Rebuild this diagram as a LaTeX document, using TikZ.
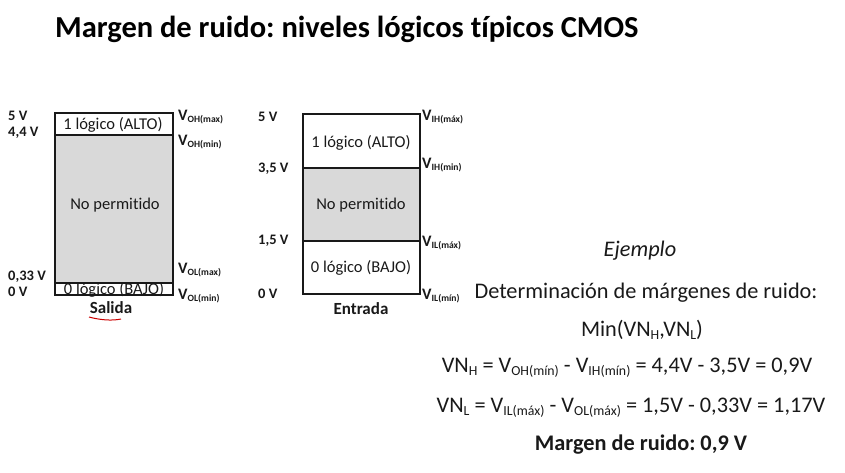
\documentclass[tikz,border=0pt]{standalone}
\usepackage{fontspec}
\setmainfont{Carlito}[Ligatures=CommonOff]
\frenchspacing
\newcommand{\sbs}[1]{\raisebox{-0.35ex}{\scalebox{0.6}{#1}}}
\newcommand{\esb}[1]{\raisebox{-0.3ex}{\scalebox{0.62}{#1}}}
\definecolor{zonegray}{RGB}{217,217,217}
\definecolor{ink}{RGB}{25,25,25}
\begin{document}
\begin{tikzpicture}[x=1pt,y=-1pt,
  titletext/.style={font=\fontsize{30.5}{34}\selectfont\bfseries, inner sep=0, anchor=base west},
  lvl/.style={font=\fontsize{14.5}{16}\selectfont\bfseries, inner sep=0, anchor=west, text=ink},
  vlab/.style={font=\fontsize{16}{18}\selectfont\bfseries, inner sep=0, anchor=west, text=ink},
  zone/.style={font=\fontsize{16.5}{19}\selectfont, inner sep=0, text=ink},
  boxcap/.style={font=\fontsize{17}{19}\selectfont\bfseries, inner sep=0, text=ink},
  eq/.style={font=\fontsize{22.3}{26}\selectfont, inner sep=0, text=ink},
  boxline/.style={draw=ink, line width=1.2pt}
]
\useasboundingbox (0,0) rectangle (845,473);

% title
\node[titletext] (t) at (55,38) {Margen de ruido: niveles lógicos típicos CMOS};

% ---------- output (Salida) ----------
\fill[zonegray] (55,135) rectangle (173,283);
\draw[boxline] (55,113) rectangle (173,295);
\draw[boxline] (55,135) -- (173,135);
\draw[boxline] (55,283) -- (173,283);
\node[zone] (o1) at (113,125) {1 lógico (ALTO)};
\node[zone] (onp) at (115,205) {No permitido};
\node[zone] (o0) at (114,290) {0 lógico (BAJO)};
\node[boxcap] (os) at (111,308) {Salida};
\draw[red!80!black, line width=1pt] (89,317) .. controls (100,320) and (112,321) .. (121,319);

\node[lvl] (l5) at (8,116) {5 V};
\node[lvl] (l44) at (8,133) {4,4 V};
\node[lvl] (l033) at (8,277) {0,33 V};
\node[lvl] (l0) at (8,292) {0 V};

\node[vlab] (vohmax) at (178,117) {V\sbs{OH(max)}};
\node[vlab] (vohmin) at (178,142) {V\sbs{OH(min)}};
\node[vlab] (volmax) at (178,270) {V\sbs{OL(max)}};
\node[vlab] (volmin) at (178,296) {V\sbs{OL(min)}};

% ---------- input (Entrada) ----------
\fill[zonegray] (303,168) rectangle (420,241);
\draw[boxline] (303,114) rectangle (420,294);
\draw[boxline] (303,168) -- (420,168);
\draw[boxline] (303,241) -- (420,241);
\node[zone] (i1) at (361,143) {1 lógico (ALTO)};
\node[zone] (inp) at (361,205) {No permitido};
\node[zone] (i0) at (361,268) {0 lógico (BAJO)};
\node[boxcap] (ie) at (361,309) {Entrada};

\node[lvl] (k5) at (258,117) {5 V};
\node[lvl] (k35) at (258,169) {3,5 V};
\node[lvl] (k15) at (258,241) {1,5 V};
\node[lvl] (k0) at (258,294) {0 V};

\node[vlab] (vihmax) at (422,117) {V\sbs{IH(máx)}};
\node[vlab] (vihmin) at (422,165) {V\sbs{IH(min)}};
\node[vlab] (vilmax) at (422,243) {V\sbs{IL(máx)}};
\node[vlab] (vilmin) at (422,296) {V\sbs{IL(mín)}};

% ---------- example ----------
\node[eq] (ej) at (640,251) {\itshape Ejemplo};
\node[eq] (det) at (646,293) {Determinación de márgenes de ruido:};
\node[eq] (min) at (642,330) {Min(VN\esb{H},VN\esb{L})};
\node[eq] (vnh) at (627,368) {VN\esb{H} = V\esb{OH(mín)} - V\esb{IH(mín)} = 4,4V - 3,5V = 0,9V};
\node[eq] (vnl) at (631,408) {VN\esb{L} = V\esb{IL(máx)} - V\esb{OL(máx)} = 1,5V - 0,33V = 1,17V};
\node[eq, font=\fontsize{22.3}{26}\selectfont\bfseries] (mr) at (641,445) {Margen de ruido: 0,9 V};
\end{tikzpicture}
\end{document}
